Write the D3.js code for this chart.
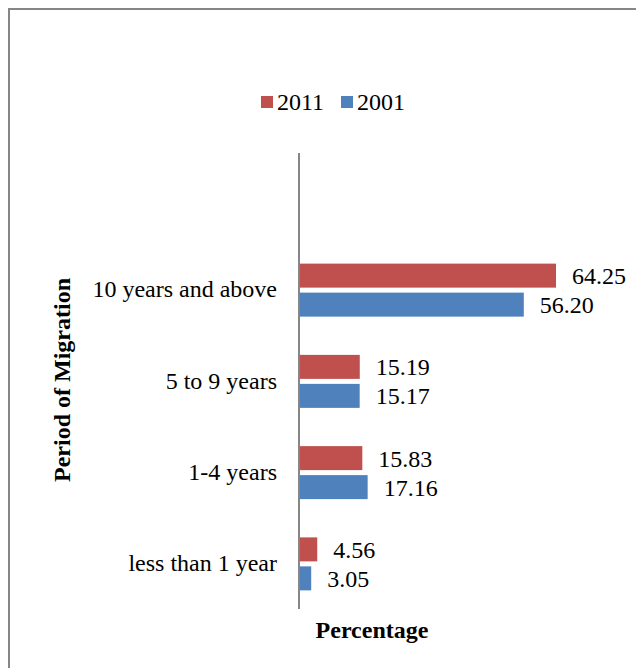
<!DOCTYPE html>
<html>
<head>
<meta charset="utf-8">
<script src="https://d3js.org/d3.v7.min.js"></script>
<style>
  body { margin: 0; background: #fff; }
  text { font-family: "Liberation Serif", "Times New Roman", serif; fill: #000; }
</style>
</head>
<body>
<div id="chart"></div>
<script>
// chart data
var categories = ["10 years and above", "5 to 9 years", "1-4 years", "less than 1 year"];
var seriesNames = ["2011", "2001"];
var values2011 = [64.25, 15.19, 15.83, 4.56];
var values2001 = [56.20, 15.17, 17.16, 3.05];
var colors = ["#C0504D", "#4F81BD"];

var svgWidth = 636;
var svgHeight = 668;

var svg = d3.select("#chart")
  .append("svg")
  .attr("width", svgWidth)
  .attr("height", svgHeight);

// outer frame
svg.append("path")
  .attr("d", "M9,668 V9 H636")
  .attr("fill", "none")
  .attr("stroke", "#868686")
  .attr("stroke-width", 2);

// scales
var xScale = d3.scaleLinear()
  .domain([0, 80])
  .range([299, 619]);

var yScale = d3.scaleBand()
  .domain(categories)
  .range([244, 609]);

var barH = 24;
var gap = 6;

var rows = categories.map(function(c, i) {
  return { cat: c, vals: [values2011[i], values2001[i]] };
});

var groups = svg.selectAll(".row")
  .data(rows)
  .enter()
  .append("g")
  .attr("class", "row")
  .attr("transform", d => `translate(0, ${yScale(d.cat) + yScale.bandwidth() / 2})`);

groups.each(function(d) {
  var g = d3.select(this);
  d.vals.forEach(function(v, j) {
    var y = j === 0 ? -barH - gap / 2 + 1 : gap / 2 + 0;
    g.append("rect")
      .attr("x", xScale(0))
      .attr("y", y)
      .attr("width", xScale(v) - xScale(0))
      .attr("height", barH)
      .attr("fill", colors[j]);
    g.append("text")
      .attr("x", xScale(v) + 16)
      .attr("y", y + barH / 2)
      .attr("dy", "0.35em")
      .style("font-size", "24px")
      .text(v.toFixed(2));
  });
});

// category labels
var yAxis = d3.axisLeft(yScale).tickSize(0).tickPadding(22);
var yAxisG = svg.append("g")
  .attr("transform", `translate(${xScale(0)}, 0)`)
  .call(yAxis);
yAxisG.select(".domain").remove();
yAxisG.selectAll("text")
  .style("font-family", "Liberation Serif, serif")
  .style("font-size", "24px")
  .attr("fill", "#000");

// vertical axis line
svg.append("line")
  .attr("x1", xScale(0))
  .attr("x2", xScale(0))
  .attr("y1", 153)
  .attr("y2", 609)
  .attr("stroke", "#868686")
  .attr("stroke-width", 2);

// legend
var legend = svg.append("g").attr("transform", "translate(261, 102)");
var legendX = [0, 80];
seriesNames.forEach(function(name, i) {
  legend.append("rect")
    .attr("x", legendX[i])
    .attr("y", -6)
    .attr("width", 12)
    .attr("height", 12)
    .attr("fill", colors[i]);
  legend.append("text")
    .attr("x", legendX[i] + 16)
    .attr("y", 0)
    .attr("dy", "0.35em")
    .style("font-size", "24px")
    .text(name);
});

// axis titles
svg.append("text")
  .attr("transform", "translate(70, 380) rotate(-90)")
  .attr("text-anchor", "middle")
  .style("font-size", "24px")
  .style("font-weight", "bold")
  .text("Period of Migration");

svg.append("text")
  .attr("x", 372)
  .attr("y", 638)
  .attr("text-anchor", "middle")
  .style("font-size", "24px")
  .style("font-weight", "bold")
  .text("Percentage");
</script>
</body>
</html>
